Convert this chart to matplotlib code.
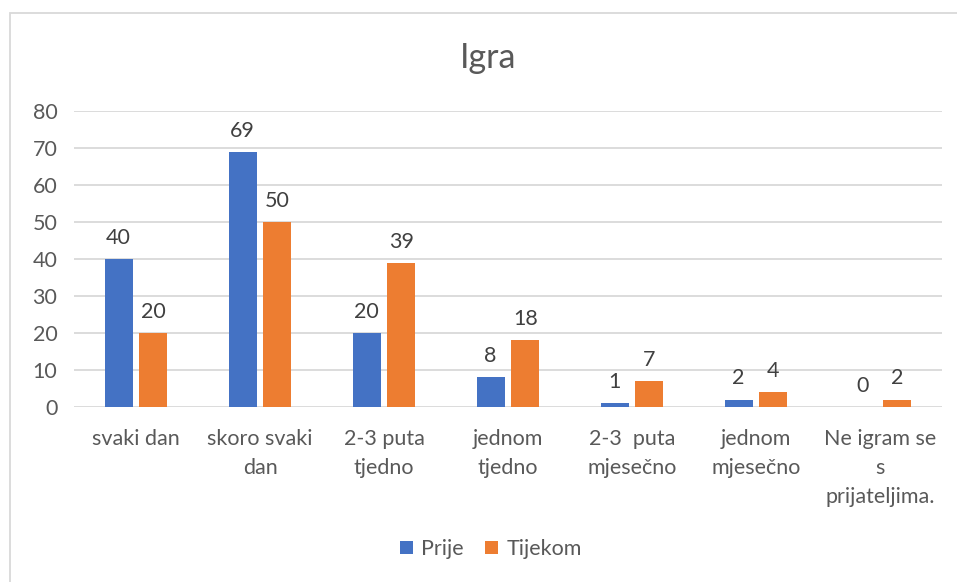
import numpy as np
import matplotlib
matplotlib.use("Agg")
import matplotlib.pyplot as plt
from matplotlib.patches import Rectangle

categories = ["svaki dan", "skoro svaki\ndan", "2-3 puta\ntjedno", "jednom\ntjedno",
              "2-3  puta\nmjesečno", "jednom\nmjesečno", "Ne igram se\ns\nprijateljima."]
prije = [40, 69, 20, 8, 1, 2, 0]
tijekom = [20, 50, 39, 18, 7, 4, 2]

plt.rcParams['font.family'] = ['Lato', 'DejaVu Sans']
txt = '#595959'
fs = 15.5

fig = plt.figure(figsize=(9.57, 5.82), dpi=100)
ax = fig.add_axes([74/957, 1-407/582, 868/957, (407-111)/582])

x = np.arange(len(categories))
w = 0.226
off = 0.141
b1 = ax.bar(x - off, prije, w, color='#4472C4', label='Prije', zorder=3)
b2 = ax.bar(x + off, tijekom, w, color='#ED7D31', label='Tijekom', zorder=3)
for bars in (b1, b2):
    ax.bar_label(bars, padding=8, fontsize=fs, color='#404040')

ax.set_xlim(-0.5, len(categories) - 0.5)
ax.set_ylim(0, 80)
ax.set_yticks(range(0, 81, 10))
ax.grid(axis='y', color='#D9D9D9', linewidth=1.3, zorder=0)
for s in ax.spines.values():
    s.set_visible(False)
ax.tick_params(axis='both', length=0, labelsize=fs, labelcolor=txt)
ax.tick_params(axis='x', pad=16)
ax.tick_params(axis='y', pad=12)
ax.set_xticks(x)
ax.set_xticklabels(categories, linespacing=1.55)

fig.text(0.51, 1-58/582, "Igra", ha='center', va='center', fontsize=24.5, color=txt)
fig.legend(loc='center', bbox_to_anchor=(491/957, 1-549/582), ncol=2, frameon=False,
           fontsize=fs, labelcolor=txt, handlelength=0.6, handleheight=0.6,
           handletextpad=0.4, columnspacing=1.0)

fig.patches.append(Rectangle((9.5/957, -0.1), 1.2, 1.1 - 12.5/582, transform=fig.transFigure,
                             fill=False, edgecolor='#D9D9D9', linewidth=1.3))

fig.savefig("out.png", dpi=100)
